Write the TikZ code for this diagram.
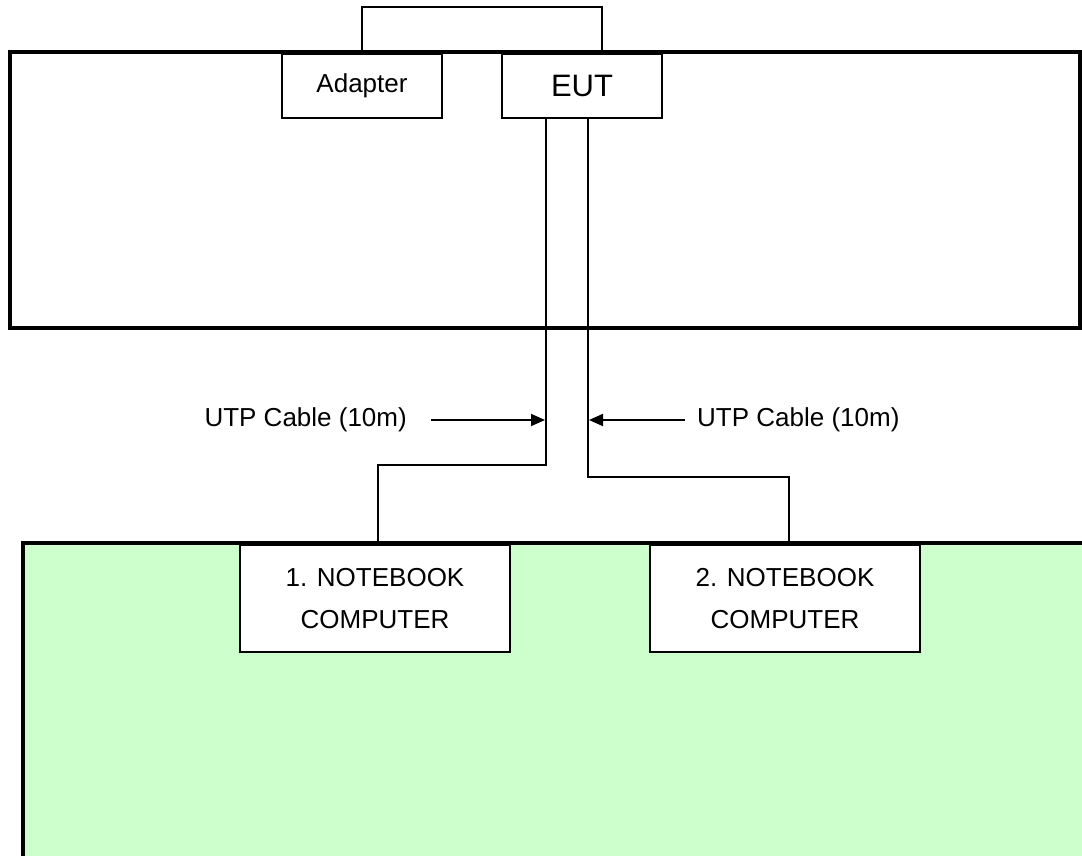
\documentclass[tikz,border=0pt]{standalone}
\usepackage{fontspec}
\setmainfont{Liberation Sans}
\usetikzlibrary{arrows.meta}
\definecolor{labgreen}{HTML}{CCFFCC}
\tikzset{
  thin line/.style={line width=1.8pt},
  area/.style={draw, line width=4.5pt},
  unit/.style={draw, thin line, fill=white, inner sep=0pt, align=center},
  lbl/.style={inner sep=0pt, font=\fontsize{26}{31}\selectfont},
  cable/.style={thin line},
  pointer/.style={thin line, -{Triangle[length=14pt,width=12pt]}}
}
\begin{document}
\begin{tikzpicture}[x=1pt,y=-1pt]
\useasboundingbox (0,0) rectangle (1082,856);
\clip (0,0) rectangle (1082,856);
% upper area
\node[area, minimum width=1070pt, minimum height=276pt, inner sep=0pt] (room) at (545,190) {};
% lower green area (extends beyond the picture)
\fill[labgreen] (23,543) rectangle (1120,900);
\draw[area] (23,900) -- (23,543) -- (1120,543);
% units
\node[unit, minimum width=160pt, minimum height=64pt, font=\fontsize{26}{31}\selectfont] (adapter) at (362,86) {Adapter};
\node[unit, minimum width=160pt, minimum height=64pt, font=\fontsize{31}{37}\selectfont] (eut) at (582,86) {EUT};
\node[unit, minimum width=270pt, minimum height=107pt, font=\fontsize{26}{42}\selectfont] (nb1) at (375,598.5) {1. NOTEBOOK\\COMPUTER};
\node[unit, minimum width=270pt, minimum height=107pt, font=\fontsize{26}{42}\selectfont] (nb2) at (785,598.5) {2. NOTEBOOK\\COMPUTER};
% power connection adapter - EUT
\coordinate (pwr) at (602,7);
\draw[cable] (adapter.north) |- (pwr) -- (eut.north -| pwr);
% UTP cables
\coordinate (c1) at (546,465);
\coordinate (c2) at (588,477);
\coordinate (d1) at (378,0);
\coordinate (d2) at (789,0);
\draw[cable] (eut.south -| c1) -- (c1) -| (nb1.north -| d1);
\draw[cable] (eut.south -| c2) -- (c2) -| (nb2.north -| d2);
% labels
\node[lbl, anchor=east] (l1) at (407,420) {UTP Cable (10m)};
\node[lbl, anchor=west] (l2) at (697,420) {UTP Cable (10m)};
\coordinate (t1) at (545,420);
\coordinate (t2) at (589,420);
\draw[pointer] ([xshift=24pt]l1.east) -- (t1);
\draw[pointer] ([xshift=-12pt]l2.west) -- (t2);
\end{tikzpicture}
\end{document}
